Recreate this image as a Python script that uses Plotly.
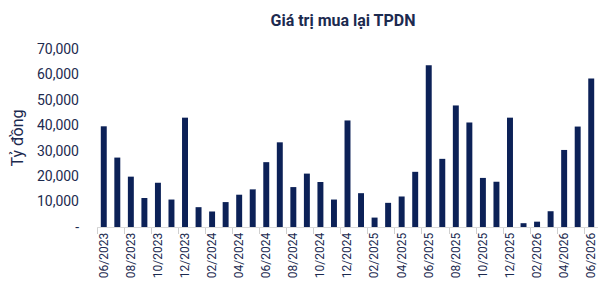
import plotly.graph_objects as go

months = [
    "06/2023", "07/2023", "08/2023", "09/2023", "10/2023", "11/2023", "12/2023",
    "01/2024", "02/2024", "03/2024", "04/2024", "05/2024", "06/2024", "07/2024",
    "08/2024", "09/2024", "10/2024", "11/2024", "12/2024",
    "01/2025", "02/2025", "03/2025", "04/2025", "05/2025", "06/2025", "07/2025",
    "08/2025", "09/2025", "10/2025", "11/2025", "12/2025",
    "01/2026", "02/2026", "03/2026", "04/2026", "05/2026", "06/2026",
]
values = [
    39600, 27300, 19800, 11400, 17400, 10800, 43000,
    7800, 6100, 9800, 12700, 14800, 25500, 33300,
    15700, 21000, 17700, 10800, 41900,
    13300, 3700, 9500, 12000, 21700, 63600, 26800,
    47800, 41100, 19300, 17800, 43000,
    1500, 2100, 6200, 30300, 39500, 58400,
]
y_tickvals = [0, 10000, 20000, 30000, 40000, 50000, 60000, 70000]
y_ticktext = ["-", "10,000", "20,000", "30,000", "40,000", "50,000", "60,000", "70,000"]

navy = "#0c2157"
text_col = "#1c2a4f"
font = "Roboto"

fig = go.Figure(go.Bar(x=months, y=values, marker=dict(color=navy, line=dict(width=0)),
                       hoverinfo="x+y"))

fig.update_layout(
    width=615, height=290,
    margin=dict(l=97, r=17, t=49, b=63),
    paper_bgcolor="white", plot_bgcolor="white",
    bargap=0.56,
    showlegend=False,
    title=dict(text="<b>Giá trị mua lại TPDN</b>", x=343 / 615, xanchor="center",
               y=1 - 20 / 290, yanchor="middle",
               font=dict(family=font, size=16, color=text_col)),
    font=dict(family=font, size=12, color=text_col),
)
fig.update_xaxes(
    type="category", tickmode="linear", tick0=0, dtick=2,
    tickangle=-90, tickson="boundaries", ticks="outside", ticklen=6,
    tickcolor="#cfcfcf", showline=True, linecolor="#d9d9d9", linewidth=1,
    showgrid=False, range=[-0.5, len(months) - 0.5],
    tickfont=dict(family=font, size=12, color=text_col),
)
fig.update_yaxes(
    range=[0, 70000], tickvals=y_tickvals, ticktext=y_ticktext,
    showgrid=False, zeroline=False, showline=False, ticks="",
    ticklabelstandoff=17,
    tickfont=dict(family=font, size=14, color=text_col),
    title=dict(text="Tỷ đồng", font=dict(family=font, size=16, color=text_col), standoff=9),
)

fig.write_html("out.html")
